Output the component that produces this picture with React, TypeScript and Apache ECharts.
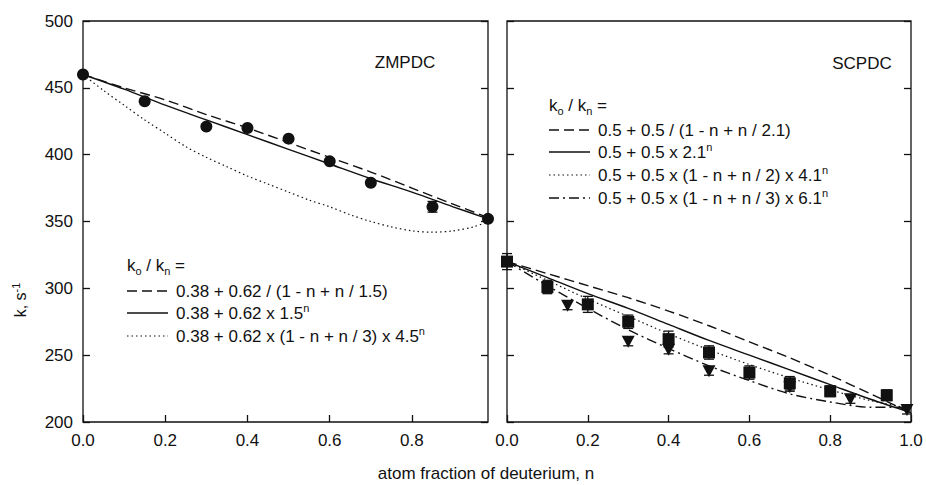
import React, { useEffect, useRef } from "react";
import * as echarts from "echarts";

// ---------- data ----------
// ZMPDC (left panel)
const zmN = [0, 0.15, 0.3, 0.4, 0.5, 0.6, 0.7, 0.85, 0.985];
const zmK = [460, 440, 421, 420, 412, 395, 379, 361, 352];
const zmErrN = [0.85];
const zmErrLo = [357];
const zmErrHi = [365];

const zmFitN = [0, 0.1, 0.2, 0.3, 0.4, 0.5, 0.6, 0.7, 0.8, 0.9, 0.985];
const zmDashed = [460, 450, 441, 430, 420, 409, 398, 387, 375, 363, 353];
const zmSolid = [460, 449, 437, 426, 415, 404, 393, 382, 372, 361, 352];
const zmDotN = [0, 0.05, 0.1, 0.15, 0.2, 0.25, 0.3, 0.35, 0.4, 0.45, 0.5, 0.55, 0.6, 0.65, 0.7, 0.75, 0.8, 0.85, 0.9, 0.95, 0.985];
const zmDotted = [460, 448, 437, 426, 416, 406, 398, 391, 384, 378, 372, 366, 361, 355, 350, 346, 343, 342, 343, 346, 350];

// SCPDC (right panel)
const scSqN = [0, 0.1, 0.2, 0.3, 0.4, 0.5, 0.6, 0.7, 0.8, 0.94];
const scSqK = [320, 301, 288, 275, 262, 252, 237, 229, 223, 220];
const scSqErr = [6, 5, 6, 5, 6, 5, 5, 5, 4, 4];
const scTriN = [0.15, 0.3, 0.4, 0.5, 0.7, 0.85, 0.99];
const scTriK = [287, 260, 254, 238, 226, 217, 209];
const scTriErr = [3, 3, 3, 3, 3, 3, 3];

const scFitN = [0, 0.1, 0.2, 0.3, 0.4, 0.5, 0.6, 0.7, 0.8, 0.9, 1.0];
const scDashed = [320, 311, 302, 293, 283, 272, 260, 248, 235, 221, 207];
const scSolid = [320, 308, 296, 285, 273, 261, 250, 239, 228, 217, 207];
const scDotted = [320, 306, 292, 279, 266, 254, 243, 233, 224, 216, 210];
const scDashDot = [320, 302, 285, 269, 255, 242, 231, 221, 215, 211, 211];

const yTicks = [200, 250, 300, 350, 400, 450, 500];
const xTicks = [0, 0.2, 0.4, 0.6, 0.8, 1.0];

const panelTitles = ["ZMPDC", "SCPDC"];
const zmLegend = [
  "0.38 + 0.62 / (1 - n + n / 1.5)",
  "0.38 + 0.62 x 1.5{sup|n}",
  "0.38 + 0.62 x (1 - n + n / 3) x 4.5{sup|n}",
];
const scLegend = [
  "0.5 + 0.5 / (1 - n + n / 2.1)",
  "0.5 + 0.5 x 2.1{sup|n}",
  "0.5 + 0.5 x (1 - n + n / 2) x 4.1{sup|n}",
  "0.5 + 0.5 x (1 - n + n / 3) x 6.1{sup|n}",
];

const INK = "#111";
const FONT = "'Liberation Sans', Arial, Helvetica, sans-serif";
const DASH = [10, 5];
const DOT = [1.5, 3];
const DASHDOT = [10, 4, 2, 4];

const zip = (a: number[], b: number[]) => a.map((v, i) => [v, b[i]]);

const rich = {
  sub: { fontSize: 11, fontFamily: FONT, fill: INK, verticalAlign: "bottom", lineHeight: 11 },
  sup: { fontSize: 11, fontFamily: FONT, fill: INK, verticalAlign: "top", lineHeight: 11 },
};

function errorBarRender(params: any, api: any) {
  const x = api.value(0);
  const lo = api.value(1);
  const hi = api.value(2);
  const p1 = api.coord([x, lo]);
  const p2 = api.coord([x, hi]);
  const w = 5;
  const st = { stroke: INK, lineWidth: 1.3 };
  return {
    type: "group",
    children: [
      { type: "line", shape: { x1: p1[0], y1: p1[1], x2: p2[0], y2: p2[1] }, style: st },
      { type: "line", shape: { x1: p1[0] - w, y1: p1[1], x2: p1[0] + w, y2: p1[1] }, style: st },
      { type: "line", shape: { x1: p2[0] - w, y1: p2[1], x2: p2[0] + w, y2: p2[1] }, style: st },
    ],
  };
}

function legendGraphics(x: number, headerY: number, rowYs: number[], texts: string[], dashes: (number[] | null)[]) {
  const els: any[] = [];
  els.push({
    type: "text",
    x,
    y: headerY,
    style: {
      text: "k{sub|o} / k{sub|n} =",
      rich,
      fontSize: 17,
      fontFamily: FONT,
      fill: INK,
      lineHeight: 22,
      verticalAlign: "middle",
    },
  });
  rowYs.forEach((ry, i) => {
    els.push({
      type: "line",
      shape: { x1: x, y1: ry, x2: x + 41, y2: ry },
      style: { stroke: INK, lineWidth: dashes[i] === DOT ? 1.2 : 1.4, lineDash: dashes[i] || undefined },
    });
    els.push({
      type: "text",
      x: x + 49,
      y: ry,
      style: {
        text: texts[i],
        rich,
        fontSize: 17,
        fontFamily: FONT,
        fill: INK,
        lineHeight: 22,
        verticalAlign: "middle",
      },
    });
  });
  return els;
}

export default function App() {
  const ref = useRef<HTMLDivElement>(null);
  useEffect(() => {
    if (!ref.current) return;
    const chart = echarts.init(ref.current, undefined, { renderer: "svg" });

    const grids = [
      { left: 83, top: 21, width: 405, height: 401 },
      { left: 507, top: 21, width: 404, height: 401 },
    ].map((g) => ({ ...g, show: true, borderColor: INK, borderWidth: 1.3, backgroundColor: "transparent" }));

    const xMax = [0.985, 1.0];
    const xAxis = [0, 1].map((i) => ({
      type: "value",
      gridIndex: i,
      min: 0,
      max: xMax[i],
      interval: 0.2,
      axisLine: { show: false },
      axisTick: { show: true, inside: true, length: 7, lineStyle: { color: INK, width: 1.3 } },
      axisLabel: {
        show: true,
        margin: 10,
        color: INK,
        fontSize: 17,
        fontFamily: FONT,
        showMaxLabel: i === 1,
        formatter: (v: number) => (xTicks.some((t) => Math.abs(t - v) < 1e-6) ? v.toFixed(1) : ""),
      },
      splitLine: { show: false },
    }));

    const yAxis: any[] = [];
    [0, 1].forEach((i) => {
      ["left", "right"].forEach((pos) => {
        yAxis.push({
          type: "value",
          gridIndex: i,
          position: pos,
          min: yTicks[0],
          max: yTicks[yTicks.length - 1],
          interval: 50,
          axisLine: { show: false },
          axisTick: { show: true, inside: true, length: 7, lineStyle: { color: INK, width: 1.3 } },
          axisLabel: {
            show: i === 0 && pos === "left",
            margin: 10,
            color: INK,
            fontSize: 17,
            fontFamily: FONT,
          },
          splitLine: { show: false },
        });
      });
    });

    const lineSeries = (data: number[][], xi: number, yi: number, dash: number[] | null, w = 1.4) => ({
      type: "line",
      xAxisIndex: xi,
      yAxisIndex: yi,
      data,
      smooth: 0.3,
      showSymbol: false,
      symbol: "none",
      lineStyle: { color: INK, width: w, type: dash || "solid" },
      z: 2,
      silent: true,
    });

    const series: any[] = [
      // left fits
      lineSeries(zip(zmFitN, zmDashed), 0, 0, DASH),
      lineSeries(zip(zmFitN, zmSolid), 0, 0, null),
      lineSeries(zip(zmDotN, zmDotted), 0, 0, DOT, 1.2),
      // left error bars
      {
        type: "custom",
        xAxisIndex: 0,
        yAxisIndex: 0,
        data: zmErrN.map((n, i) => [n, zmErrLo[i], zmErrHi[i]]),
        encode: { x: 0, y: [1, 2] },
        renderItem: errorBarRender,
        z: 3,
      },
      // left points
      {
        type: "scatter",
        xAxisIndex: 0,
        yAxisIndex: 0,
        data: zip(zmN, zmK),
        symbol: "circle",
        symbolSize: 12,
        itemStyle: { color: INK, opacity: 1 },
        z: 4,
      },
      // right fits
      lineSeries(zip(scFitN, scDashed), 1, 2, DASH),
      lineSeries(zip(scFitN, scSolid), 1, 2, null),
      lineSeries(zip(scFitN, scDotted), 1, 2, DOT, 1.2),
      lineSeries(zip(scFitN, scDashDot), 1, 2, DASHDOT),
      // right error bars
      {
        type: "custom",
        xAxisIndex: 1,
        yAxisIndex: 2,
        data: scSqN.map((n, i) => [n, scSqK[i] - scSqErr[i], scSqK[i] + scSqErr[i]]),
        encode: { x: 0, y: [1, 2] },
        renderItem: errorBarRender,
        z: 3,
      },
      {
        type: "custom",
        xAxisIndex: 1,
        yAxisIndex: 2,
        data: scTriN.map((n, i) => [n, scTriK[i] - scTriErr[i], scTriK[i] + scTriErr[i]]),
        encode: { x: 0, y: [1, 2] },
        renderItem: errorBarRender,
        z: 3,
      },
      // right points
      {
        type: "scatter",
        xAxisIndex: 1,
        yAxisIndex: 2,
        data: zip(scSqN, scSqK),
        symbol: "rect",
        symbolSize: 12,
        itemStyle: { color: INK, opacity: 1 },
        z: 4,
      },
      {
        type: "scatter",
        xAxisIndex: 1,
        yAxisIndex: 2,
        data: zip(scTriN, scTriK),
        symbol: "triangle",
        symbolRotate: 180,
        symbolSize: [13, 12],
        itemStyle: { color: INK, opacity: 1 },
        z: 4,
      },
    ];

    const graphic: any[] = [
      {
        type: "text",
        x: 405,
        y: 62,
        style: { text: panelTitles[0], fontSize: 17, fontFamily: FONT, fill: INK, align: "center", verticalAlign: "middle" },
      },
      {
        type: "text",
        x: 862,
        y: 63,
        style: { text: panelTitles[1], fontSize: 17, fontFamily: FONT, fill: INK, align: "center", verticalAlign: "middle" },
      },
      ...legendGraphics(127, 265, [291, 313, 336], zmLegend, [DASH, null, DOT]),
      ...legendGraphics(549, 105, [130, 152, 175, 198], scLegend, [DASH, null, DOT, DASHDOT]),
      {
        type: "text",
        x: 20,
        y: 300,
        rotation: Math.PI / 2,
        style: {
          text: "k, s{sup|-1}",
          rich,
          fontSize: 16,
          fontFamily: FONT,
          fill: INK,
          lineHeight: 20,
          align: "center",
          verticalAlign: "middle",
        },
      },
      {
        type: "text",
        x: 486,
        y: 473,
        style: {
          text: "atom fraction of deuterium, n",
          fontSize: 17,
          fontFamily: FONT,
          fill: INK,
          align: "center",
          verticalAlign: "middle",
        },
      },
    ];

    chart.setOption({
      animation: false,
      backgroundColor: "#fff",
      grid: grids,
      xAxis,
      yAxis,
      series,
      graphic,
    });
    return () => chart.dispose();
  }, []);

  return (
    <div
      ref={ref}
      style={{ position: "fixed", left: 0, top: 0, width: 926, height: 485, background: "#fff" }}
    />
  );
}
